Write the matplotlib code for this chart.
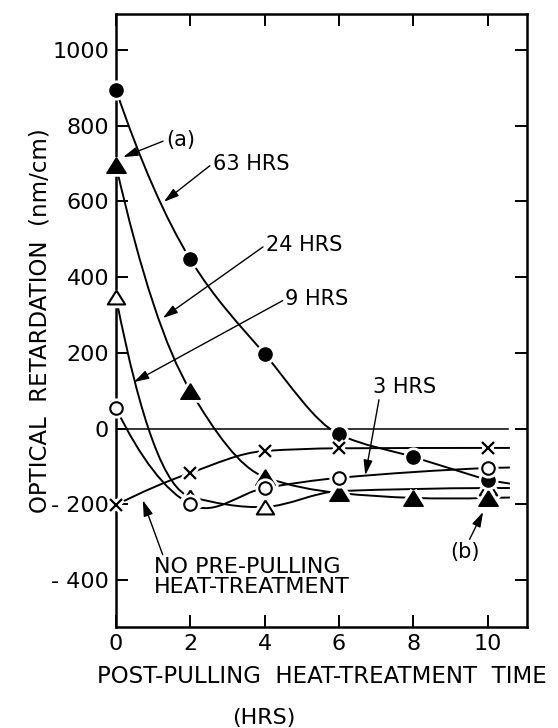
import numpy as np
import matplotlib
matplotlib.use("Agg")
import matplotlib.pyplot as plt
from matplotlib.path import Path
from matplotlib.patches import PathPatch

# post-pulling heat-treatment time (hrs) and optical retardation (nm/cm)
x_63 = [0, 2, 4, 6, 8, 10]
y_63 = [894, 447, 197, -15, -75, -136]

x_24 = [0, 2, 4, 6, 8, 10]
y_24 = [695, 100, -128, -170, -183, -183]

x_9 = [0, 2, 4, 6, 10]
y_9 = [347, -180, -207, -165, -157]

x_3 = [0, 2, 4, 6, 10]
y_3 = [54, -200, -157, -130, -104]

x_none = [0, 2, 4, 6, 10]
y_none = [-202, -117, -59, -52, -51]

xticks = [0, 2, 4, 6, 8, 10]
xtick_labels = ["0", "2", "4", "6", "8", "10"]
yticks = [1000, 800, 600, 400, 200, 0, -200, -400]
ytick_labels = ["1000", "800", "600", "400", "200", "0", "- 200", "- 400"]

plt.rcParams["font.family"] = "DejaVu Sans"

fig = plt.figure(figsize=(5.58, 7.28), dpi=100)
ax = fig.add_axes([0.2079, 0.1387, 0.7365, 0.8421])
ax.set_xlim(0, 11.06)
ax.set_ylim(-524, 1095)


def smooth_path(xs, ys, tail=0.6):
    # cubic hermite y(x) through the points as bezier segments,
    # plus a short straight run past the last point
    x = np.asarray(xs, float)
    y = np.asarray(ys, float)
    n = len(x)
    d = np.diff(y) / np.diff(x)
    m = np.empty(n)
    for i in range(1, n - 1):
        a, b = d[i - 1], d[i]
        if a * b > 0:
            m[i] = 2 / (1 / a + 1 / b)
        else:
            m[i] = (y[i + 1] - y[i - 1]) / (x[i + 1] - x[i - 1])
    m[0] = 2 * d[0] - m[1]
    m[-1] = 2 * d[-1] - m[-2]
    verts = [(x[0], y[0])]
    codes = [Path.MOVETO]
    for i in range(n - 1):
        h = (x[i + 1] - x[i]) / 3
        verts += [(x[i] + h, y[i] + m[i] * h),
                  (x[i + 1] - h, y[i + 1] - m[i + 1] * h),
                  (x[i + 1], y[i + 1])]
        codes += [Path.CURVE4] * 3
    verts.append((x[-1] + tail, y[-1] + m[-1] * tail * 0.5))
    codes.append(Path.LINETO)
    return Path(verts, codes)


tri = [(0, 0.8), (-1, -0.8), (1, -0.8), (0, 0.8)]

series = [
    (x_9, y_9, dict(marker=tri, ms=12.5, mfc="white", mec="black", mew=1.5)),
    (x_24, y_24, dict(marker=tri, ms=14, mfc="black", mec="black", mew=1)),
    (x_63, y_63, dict(marker="o", ms=9.5, mfc="black", mec="black", mew=1)),
    (x_3, y_3, dict(marker="o", ms=9, mfc="white", mec="black", mew=1.5)),
    (x_none, y_none, dict(marker="x", ms=9, mfc="none", mec="black", mew=1.6)),
]

ax.axhline(0, xmin=0, xmax=0.955, color="black", lw=1.1, zorder=1)

for i, (xs, ys, st) in enumerate(series):
    ax.add_patch(PathPatch(smooth_path(xs, ys), fill=False, ec="black",
                           lw=1.4, zorder=2 + i * 0.1))

for i, (xs, ys, st) in enumerate(series):
    z = 5 + i
    halo = dict(st)
    halo.update(mfc="white", mec="white", mew=st["mew"] + 4)
    ax.plot(xs, ys, ls="none", clip_on=False, zorder=z, **halo)
    ax.plot(xs, ys, ls="none", clip_on=False, zorder=z + 0.5, **st)

for s in ax.spines.values():
    s.set_linewidth(1.8)
    s.set_zorder(3)

ax.set_xticks(xticks)
ax.set_xticklabels(xtick_labels)
ax.set_yticks(yticks)
ax.set_yticklabels(ytick_labels)
ax.tick_params(direction="in", length=8.5, width=1.4, labelsize=16,
               top=True, right=True)
ax.tick_params(axis="x", pad=5)
ax.tick_params(axis="y", pad=5)

ax.set_xlabel("POST-PULLING  HEAT-TREATMENT  TIME", fontsize=16.5,
              labelpad=8)
ax.set_ylabel("OPTICAL  RETARDATION  (nm/cm)", fontsize=16.5, labelpad=0)
fig.text(0.473, 0.0, "(HRS)", fontsize=16, ha="center", va="bottom")

arrow = dict(arrowstyle="-|>,head_length=0.6,head_width=0.18", color="black",
             lw=1.0, shrinkA=0, shrinkB=0)

ax.annotate("63 HRS", xy=(1.29, 599), xytext=(2.6, 700), fontsize=15,
            ha="left", va="center",
            arrowprops=dict(arrow, relpos=(0, 0.5)))
ax.annotate("24 HRS", xy=(1.26, 292), xytext=(4.03, 485), fontsize=15,
            ha="left", va="center",
            arrowprops=dict(arrow, relpos=(0, 0.5)))
ax.annotate("9 HRS", xy=(0.48, 123), xytext=(4.56, 342), fontsize=15,
            ha="left", va="center",
            arrowprops=dict(arrow, relpos=(0, 0.5)))
ax.annotate("(a)", xy=(0.19, 717), xytext=(1.34, 762), fontsize=15,
            ha="left", va="center",
            arrowprops=dict(arrow, relpos=(0, 0.5)))
ax.annotate("3 HRS", xy=(6.71, -123), xytext=(7.77, 110), fontsize=15,
            ha="center", va="center",
            arrowprops=dict(arrow, relpos=(0.1, 0)))
ax.annotate("(b)", xy=(9.88, -220), xytext=(9.40, -326), fontsize=15,
            ha="center", va="center",
            arrowprops=dict(arrow, relpos=(0.6, 1)))
ax.annotate("NO PRE-PULLING\nHEAT-TREATMENT", xy=(0.72, -189),
            xytext=(1.02, -392), fontsize=16, ha="left", va="center",
            linespacing=0.95,
            arrowprops=dict(arrow, relpos=(0.05, 1)))

fig.savefig("out.png", dpi=100)
